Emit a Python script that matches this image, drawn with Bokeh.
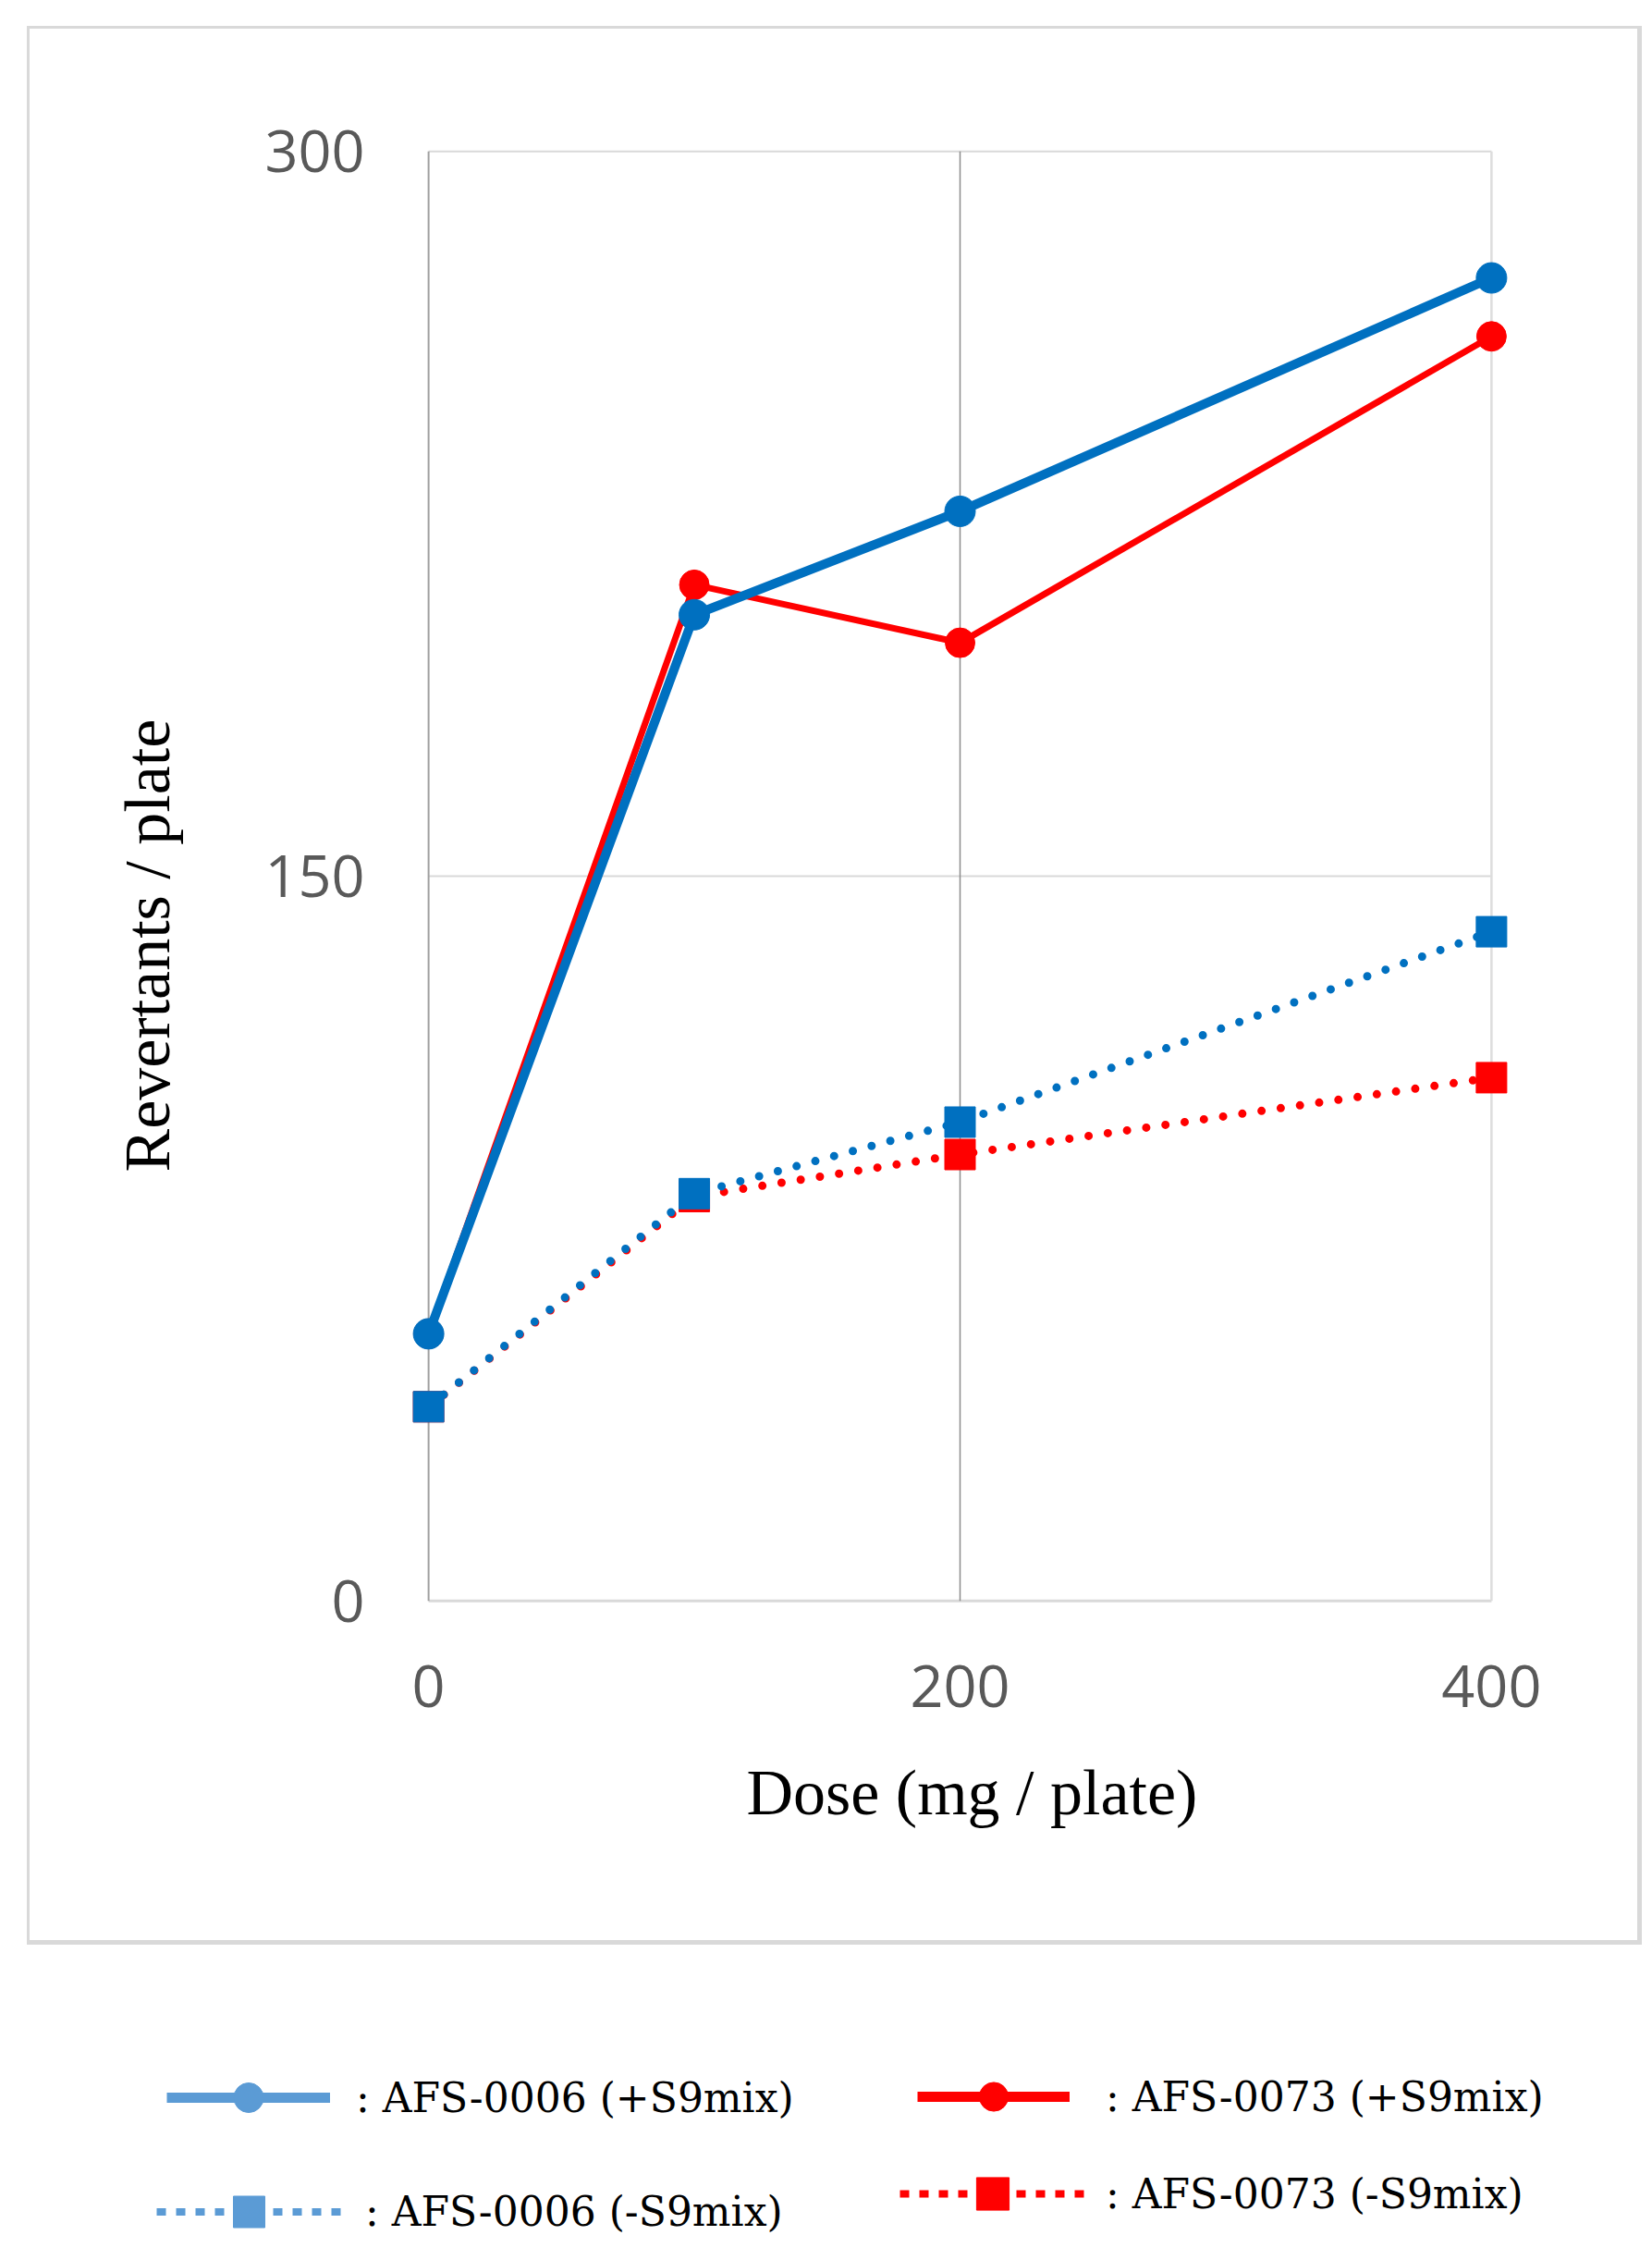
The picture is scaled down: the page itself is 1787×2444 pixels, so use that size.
import numpy as np
from bokeh.plotting import figure
from bokeh.models import (Range1d, FixedTicker, Legend, LegendItem, Title, Spacer)
from bokeh.layouts import column, row
from bokeh.embed import file_html
from bokeh.resources import INLINE

# ---------------- data ----------------
doses = [0, 100, 200, 400]
afs0006_plus = [55.3, 204.1, 225.5, 273.8]
afs0073_plus = [55.3, 210.3, 198.3, 261.7]
afs0006_minus = [40.2, 84.3, 99.1, 138.5]
afs0073_minus = [40.2, 83.7, 92.4, 108.3]
x_ticks = [0, 200, 400]
y_ticks = [0, 150, 300]
legend_labels = [": AFS-0006 (+S9mix)", ": AFS-0073 (+S9mix)",
                 ": AFS-0006 (-S9mix)", ": AFS-0073 (-S9mix)"]
x_title = "Dose (mg / plate)"
y_title = "Revertants / plate"

# ---------------- styles ----------------
BLUE = "#0070C0"
RED = "#FF0000"
LEG_BLUE = "#5B9BD5"
TICK_FONT = "Open Sans"
SERIF = "Liberation Serif"
LEG_FONT = "DejaVu Serif"
BORDER = "#d9d9d9"

# outer box of the chart
BX, BY = 29, 28
BW, BH = 1747, 2075
BT_L, BT_T, BT_R, BT_B = 3, 3, 5, 5

W, H = BW - BT_L - BT_R, BH - BT_T - BT_B
OX, OY = BX + BT_L, BY + BT_T          # page offset of the chart canvas
XL, XR = -15, 415
YB, YT = -5, 305
FW, FH = 1236, 1620
ML, MT = 420 - OX, 137 - OY

p = figure(width=W, height=H, x_range=Range1d(XL, XR), y_range=Range1d(YB, YT),
           output_backend="svg", toolbar_location=None,
           min_border_left=ML, min_border_top=MT,
           min_border_right=W - ML - FW, min_border_bottom=H - MT - FH)
p.outline_line_color = None
p.background_fill_color = "white"
p.border_fill_color = "white"
p.xgrid.visible = False
p.ygrid.visible = False

# axes
for ax, tk, so in ((p.xaxis, x_ticks, 37), (p.yaxis, y_ticks, 20)):
    ax.ticker = FixedTicker(ticks=tk)
    ax.axis_line_color = None
    ax.major_tick_line_color = None
    ax.minor_tick_line_color = None
    ax.major_label_text_font = TICK_FONT
    ax.major_label_text_font_size = "63px"
    ax.major_label_text_color = "#595959"
    ax.major_label_standoff = so

# grid lines, limited to the tick extent
x0, x1 = x_ticks[0], x_ticks[-1]
y0, y1 = y_ticks[0], y_ticks[-1]
p.segment(x0=[x0] * len(y_ticks), y0=y_ticks, x1=[x1] * len(y_ticks), y1=y_ticks,
          line_color=["#d9d9d9", "#d9d9d9", "#d9d9d9"], line_width=[3, 2, 2], level="underlay")
p.segment(x0=x_ticks, y0=[y0] * len(x_ticks), x1=x_ticks, y1=[y1] * len(x_ticks),
          line_color=["#a0a0a0", "#8c8c8c", "#dddddd"], line_width=[2, 1.5, 2.5], level="underlay")

# series
p.line(doses, afs0073_minus, line_color=RED, line_width=9, line_dash="0 21", line_cap="round")
p.scatter(doses, afs0073_minus, marker="square", size=33, color=RED)
p.line(doses, afs0006_minus, line_color=BLUE, line_width=9, line_dash="0 21", line_cap="round")
p.scatter(doses, afs0006_minus, marker="square", size=33, color=BLUE)
p.line(doses, afs0073_plus, line_color=RED, line_width=7)
p.scatter(doses, afs0073_plus, marker="circle", size=32, color=RED)
p.line(doses, afs0006_plus, line_color=BLUE, line_width=10)
p.scatter(doses, afs0006_plus, marker="circle", size=33, color=BLUE)

# axis titles
p.add_layout(Title(text=y_title, align="left", offset=490, standoff=172,
                   text_font=SERIF, text_font_size="70px", text_font_style="normal",
                   text_color="black"), "left")
p.add_layout(Title(text=x_title, align="left", offset=387, standoff=98,
                   text_font=SERIF, text_font_size="70px", text_font_style="normal",
                   text_color="black"), "below")

# border bars
def bar(w, h):
    return Spacer(width=w, height=h, styles={"background-color": BORDER})

box = column(bar(BW, BT_T),
             row(bar(BT_L, H), p, bar(BT_R, H)),
             bar(BW, BT_B))

# ---------------- legend strip ----------------
LW, LH = 1787, 2444 - (BY + BH)
q = figure(width=LW, height=LH, x_range=Range1d(0, 1), y_range=Range1d(0, 1),
           output_backend="svg", toolbar_location=None,
           x_axis_location=None, y_axis_location=None,
           min_border=0, min_border_left=0, min_border_right=0,
           min_border_top=0, min_border_bottom=0)
q.outline_line_color = None
q.xgrid.visible = False
q.ygrid.visible = False
q.border_fill_color = "white"

nan = np.array([np.nan])

def legend_block(label, color, dash, marker, lw, gx0, gx1, yc, gh, standoff):
    lr = q.line(nan, nan, line_color=color, line_width=lw, line_dash=dash)
    sr = q.scatter(nan, nan, marker=marker, size=10, color=color)
    lg = Legend(items=[LegendItem(label=label, renderers=[lr, sr])],
                location=(gx0, int(round(2444 - (yc + gh / 2)))),
                glyph_width=int(gx1 - gx0), glyph_height=int(gh), label_standoff=standoff,
                padding=0, margin=0, spacing=0, border_line_color=None,
                background_fill_alpha=0, label_text_font=LEG_FONT,
                label_text_font_size="44px", label_text_color="black")
    q.add_layout(lg)

legend_block(legend_labels[0], LEG_BLUE, "solid", "circle", 11, 180, 357, 2268, 80, 28)
legend_block(legend_labels[1], RED, "solid", "circle", 11, 992, 1157, 2267, 78, 39)
legend_block(legend_labels[2], LEG_BLUE, "10 11", "square", 8, 169, 369, 2391, 85, 26)
legend_block(legend_labels[3], RED, "10 11", "square", 8, 973, 1174, 2372, 88, 22)

layout = column(Spacer(width=LW, height=BY), row(Spacer(width=BX, height=BH), box), q)
open("out.html", "w").write(file_html(layout, INLINE))
